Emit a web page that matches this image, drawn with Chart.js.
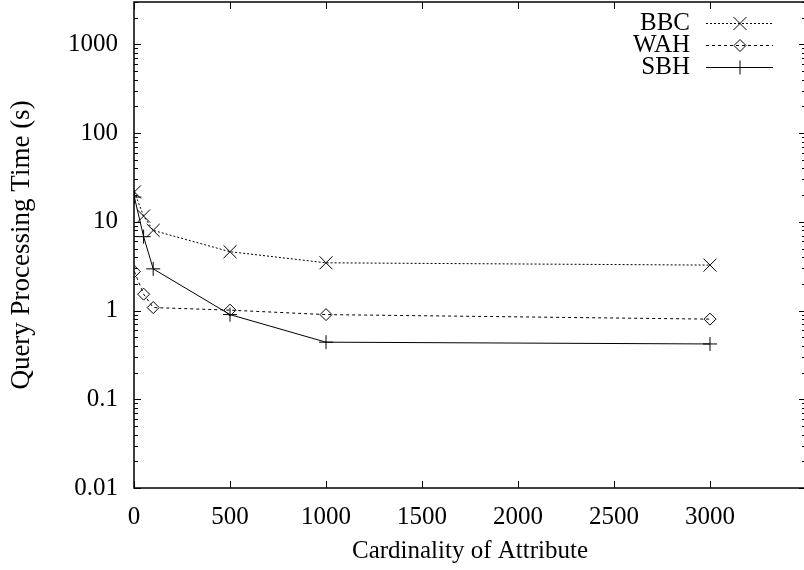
<!DOCTYPE html>
<html>
<head>
<meta charset="utf-8">
<title>Query Processing Time</title>
<script src="https://cdn.jsdelivr.net/npm/chart.js@4.4.0/dist/chart.umd.min.js"></script>
<style>
  html, body { margin: 0; padding: 0; background: #fff; overflow: hidden; }
  #wrap { width: 810px; height: 570px; }
</style>
</head>
<body>
<div id="wrap"><canvas id="queryChart" width="810" height="570"></canvas></div>
<script>
// Query times per attribute cardinality
const cardinalities = [2, 50, 100, 500, 1000, 3000];
const bbcTimes = [21.7, 11.6, 8.0, 4.6, 3.45, 3.25];
const wahTimes = [2.75, 1.53, 1.08, 1.01, 0.9, 0.8];
const sbhTimes = [19, 6.8, 2.95, 0.9, 0.44, 0.42];

const xTicks = [0, 500, 1000, 1500, 2000, 2500, 3000];
const yDecades = [0.01, 0.1, 1, 10, 100, 1000];

const serifFamily = '"Liberation Serif", "Times New Roman", serif';
const serif = { family: serifFamily, size: 25 };

// decade ticks plus the 2..9 minor ticks in between
const yTickValues = [];
yDecades.forEach(d => {
    yTickValues.push(d);
    for (let k = 2; k <= 9; k++) {
        if (d * k <= 3000) yTickValues.push(d * k);
    }
});

function toPoints(values) {
    return cardinalities.map((x, i) => ({ x: x, y: values[i] }));
}

const datasets = [
    { label: 'BBC', data: toPoints(bbcTimes), borderDash: [2, 2], pointStyle: 'crossRot', pointRadius: 9.2 },
    { label: 'WAH', data: toPoints(wahTimes), borderDash: [3, 3], pointStyle: 'rectRot', pointRadius: 6 },
    { label: 'SBH', data: toPoints(sbhTimes), borderDash: [], pointStyle: 'cross', pointRadius: 7 }
].map(ds => Object.assign({
    borderColor: '#000',
    borderWidth: 1,
    pointBorderColor: '#000',
    pointBackgroundColor: 'rgba(0,0,0,0)',
    pointBorderWidth: 1,
    pointHoverRadius: 0,
    tension: 0,
    fill: false
}, ds));

// gnuplot style box with inward ticks on all four sides
const framePlugin = {
    id: 'frame',
    beforeDatasetsDraw(chart) {
        const { ctx, chartArea: a, scales } = chart;
        ctx.save();
        ctx.strokeStyle = '#000';
        ctx.lineWidth = 1;
        ctx.beginPath();
        yTickValues.forEach(v => {
            const y = Math.round(scales.y.getPixelForValue(v)) + 0.5;
            const len = yDecades.includes(v) ? 7 : 4;
            ctx.moveTo(a.left, y); ctx.lineTo(a.left + len, y);
            ctx.moveTo(a.right, y); ctx.lineTo(a.right - len, y);
        });
        xTicks.forEach(v => {
            const x = Math.round(scales.x.getPixelForValue(v)) + 0.5;
            ctx.moveTo(x, a.bottom); ctx.lineTo(x, a.bottom - 7);
            ctx.moveTo(x, a.top); ctx.lineTo(x, a.top + 7);
        });
        ctx.stroke();
        ctx.lineWidth = 1.5;
        ctx.strokeRect(a.left, a.top, a.right - a.left, a.bottom - a.top);
        ctx.restore();
    }
};

// key in the upper right corner: label, line sample, marker
const keyPlugin = {
    id: 'key',
    afterDraw(chart) {
        const ctx = chart.ctx;
        const rows = [23, 45, 67];
        ctx.save();
        chart.data.datasets.forEach((ds, i) => {
            const y = rows[i];
            ctx.fillStyle = '#000';
            ctx.font = serif.size + 'px ' + serifFamily;
            ctx.textAlign = 'right';
            ctx.textBaseline = 'middle';
            ctx.fillText(ds.label, 690, y);
            ctx.strokeStyle = '#000';
            ctx.lineWidth = 1;
            ctx.setLineDash(ds.borderDash);
            ctx.beginPath();
            ctx.moveTo(706, y + 0.5);
            ctx.lineTo(773, y + 0.5);
            ctx.stroke();
            ctx.setLineDash([]);
            ctx.fillStyle = 'rgba(0,0,0,0)';
            Chart.helpers.drawPoint(ctx, {
                pointStyle: ds.pointStyle, rotation: 0, radius: ds.pointRadius, borderWidth: 1
            }, 740, y + 0.5);
        });
        ctx.restore();
    }
};

new Chart(document.getElementById('queryChart'), {
    type: 'line',
    data: { datasets: datasets },
    options: {
        responsive: false,
        animation: false,
        devicePixelRatio: 1,
        layout: { autoPadding: false, padding: { top: 2, right: 4, bottom: 0, left: 0 } },
        plugins: { legend: { display: false }, tooltip: { enabled: false } },
        scales: {
            x: {
                type: 'linear',
                min: 0,
                max: 3500,
                afterBuildTicks: s => { s.ticks = xTicks.map(v => ({ value: v })); },
                afterFit: s => { s.height = 82; s.paddingLeft = 0; s.paddingRight = 0; },
                grid: { display: false, drawTicks: false },
                border: { display: false },
                ticks: {
                    padding: 14, font: serif, color: '#000', maxRotation: 0, autoSkip: false,
                    callback: v => String(v)
                },
                title: {
                    display: true, text: 'Cardinality of Attribute', font: serif, color: '#000',
                    padding: { top: 0, bottom: 4 }
                }
            },
            y: {
                type: 'logarithmic',
                min: 0.01,
                max: 3000,
                afterBuildTicks: s => { s.ticks = yTickValues.map(v => ({ value: v })); },
                afterFit: s => { s.width = 134; s.paddingTop = 0; s.paddingBottom = 0; },
                grid: { display: false, drawTicks: false },
                border: { display: false },
                ticks: {
                    padding: 16, font: serif, color: '#000', autoSkip: false,
                    callback: v => yDecades.includes(v) ? String(v) : ''
                },
                title: {
                    display: true, text: 'Query Processing Time (s)', color: '#000',
                    font: { family: serifFamily, size: 27 },
                    padding: { top: 6, bottom: 0 }
                }
            }
        }
    },
    plugins: [framePlugin, keyPlugin]
});
</script>
</body>
</html>
